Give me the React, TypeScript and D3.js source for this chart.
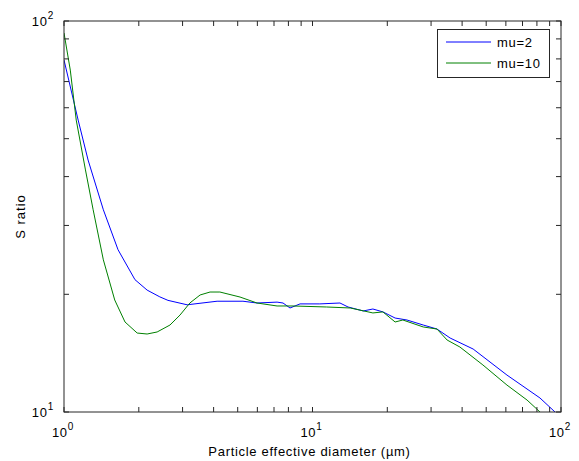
import React from "react";
import * as d3 from "d3";

const blueX = [1.0, 1.14, 1.25, 1.44, 1.65, 1.93, 2.16, 2.43, 2.62, 3.13, 4.13, 5.25, 5.98, 7.2, 7.61, 8.12, 8.91, 10.7, 12.9, 13.9, 16.0, 17.5, 19.2, 21.5, 24.0, 27.9, 31.7, 35.8, 44.3, 60.6, 82.3, 94.6];
const blueY = [79.5, 55.8, 44.1, 32.9, 26.0, 21.8, 20.5, 19.7, 19.3, 18.8, 19.2, 19.2, 19.0, 19.1, 19.0, 18.45, 18.9, 18.9, 19.0, 18.56, 18.13, 18.34, 18.03, 17.39, 17.19, 16.69, 16.3, 15.46, 14.49, 12.43, 10.86, 10.0];

const greenX = [1.0, 1.06, 1.12, 1.22, 1.31, 1.44, 1.6, 1.76, 1.97, 2.16, 2.37, 2.67, 2.93, 3.21, 3.53, 3.87, 4.24, 5.11, 5.98, 7.2, 8.35, 11.4, 14.2, 17.5, 19.2, 21.5, 23.1, 27.9, 31.7, 34.8, 39.2, 48.5, 60.6, 73.0, 82.3];
const greenY = [93.2, 74.9, 55.8, 41.6, 32.9, 24.5, 19.34, 16.99, 15.92, 15.83, 16.02, 16.69, 17.7, 19.0, 19.92, 20.27, 20.27, 19.68, 19.0, 18.67, 18.67, 18.56, 18.45, 17.92, 18.03, 16.99, 17.19, 16.5, 16.3, 15.28, 14.66, 13.19, 11.72, 10.73, 10.0];

const seriesNames = ["mu=2", "mu=10"];
const seriesColors = ["#0000ff", "#008000"];
const decades = [0, 1, 2];
const yDecades = [1, 2];

const W = 579;
const H = 461;
const L = 64, R = 561, T = 21, B = 412;
const FONT = "'Liberation Sans', Arial, sans-serif";
const LS = 0.7;

export default function App() {
  const x = d3.scaleLog().domain([1, 100]).range([L, R]);
  const y = d3.scaleLog().domain([10, 100]).range([B, T]);
  const line = d3.line<[number, number]>().x(d => x(d[0])).y(d => y(d[1]));
  const blue = blueX.map((v, i) => [v, blueY[i]] as [number, number]);
  const green = greenX.map((v, i) => [v, greenY[i]] as [number, number]);

  const xTicks: number[] = [];
  for (let d = 0; d < 2; d++) for (let k = 1; k <= 10; k++) xTicks.push(k * Math.pow(10, d));
  const yTicks: number[] = [];
  for (let k = 1; k <= 10; k++) yTicks.push(k * 10);
  const tl = 5;
  const axisColor = "#262626";

  return (
    <svg width={W} height={H} style={{ position: "absolute", left: 0, top: 0, background: "#fff" }} fontFamily={FONT}>
      <rect x={0} y={0} width={W} height={H} fill="#fff" />
      <defs>
        <clipPath id="plotclip">
          <rect x={L} y={T} width={R - L} height={B - T} />
        </clipPath>
      </defs>
      <g clipPath="url(#plotclip)">
        <path d={line(blue) || ""} fill="none" stroke={seriesColors[0]} strokeWidth={1} />
        <path d={line(green) || ""} fill="none" stroke={seriesColors[1]} strokeWidth={1} />
      </g>
      <rect x={L} y={T} width={R - L} height={B - T} fill="none" stroke={axisColor} strokeWidth={1} />
      {xTicks.map((t, i) => (
        <g key={"xt" + i}>
          <line x1={x(t)} x2={x(t)} y1={B} y2={B - tl} stroke={axisColor} />
          <line x1={x(t)} x2={x(t)} y1={T} y2={T + tl} stroke={axisColor} />
        </g>
      ))}
      {yTicks.map((t, i) => (
        <g key={"yt" + i}>
          <line x1={L} x2={L + tl} y1={y(t)} y2={y(t)} stroke={axisColor} />
          <line x1={R} x2={R - tl} y1={y(t)} y2={y(t)} stroke={axisColor} />
        </g>
      ))}
      {decades.map(d => (
        <text key={"xl" + d} x={x(Math.pow(10, d)) - 1} y={437} fontSize={13} letterSpacing={LS} textAnchor="middle" fill="#000">
          10<tspan dy={-7} fontSize={10}>{d}</tspan>
        </text>
      ))}
      {yDecades.map(d => (
        <text key={"yl" + d} x={L - 10} y={y(Math.pow(10, d)) + 5} fontSize={13} letterSpacing={LS} textAnchor="end" fill="#000">
          10<tspan dy={-7} fontSize={10}>{d}</tspan>
        </text>
      ))}
      <text x={(L + R) / 2 - 3} y={456} fontSize={13} letterSpacing={LS} textAnchor="middle" fill="#000">Particle effective diameter (µm)</text>
      <text transform={`translate(25, ${(T + B) / 2}) rotate(-90)`} fontSize={13} letterSpacing={1} textAnchor="middle" fill="#000">S ratio</text>
      <rect x={437.5} y={29.5} width={112} height={48} fill="#fff" stroke={axisColor} />
      {seriesNames.map((n, i) => (
        <g key={n}>
          <line x1={446} x2={491} y1={42 + i * 21} y2={42 + i * 21} stroke={seriesColors[i]} />
          <text x={497} y={47 + i * 21} fontSize={13} letterSpacing={LS} fill="#000">{n}</text>
        </g>
      ))}
    </svg>
  );
}
